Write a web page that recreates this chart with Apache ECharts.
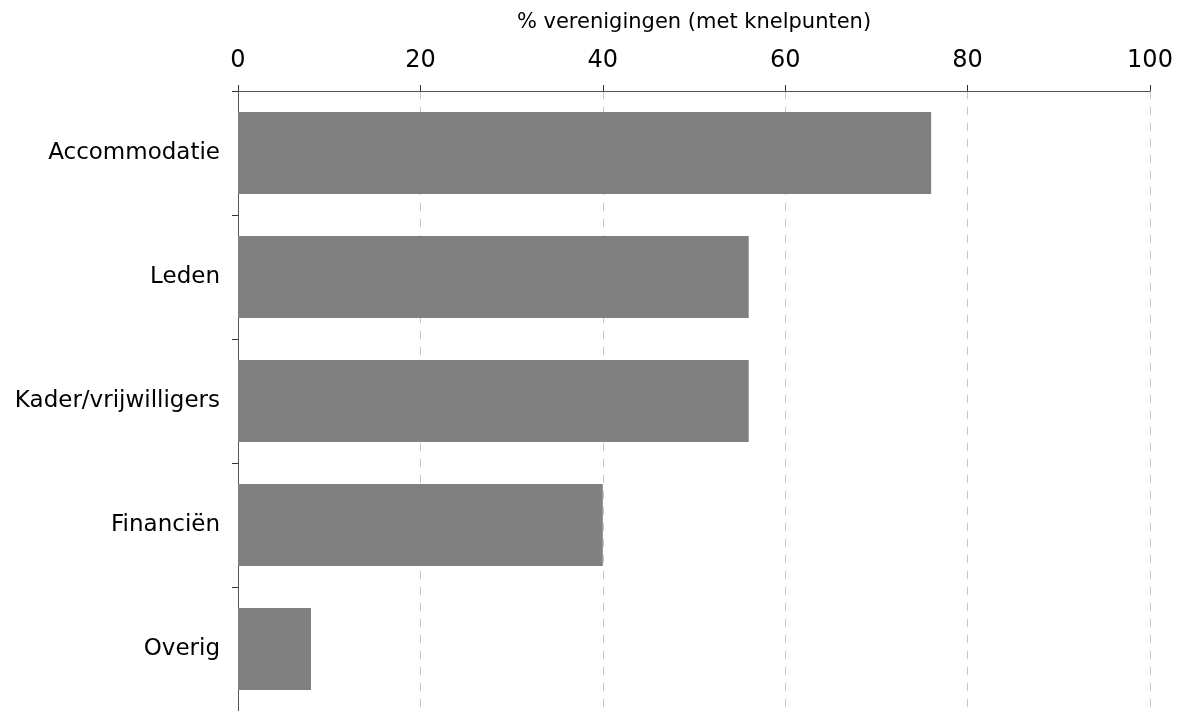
<!DOCTYPE html>
<html>
<head>
<meta charset="utf-8">
<script src="https://cdn.jsdelivr.net/npm/echarts@6/dist/echarts.min.js"></script>
<style>html,body{margin:0;padding:0;background:#fff}#c{width:1180px;height:711px}</style>
</head>
<body>
<div id="c"></div>
<script>
const categories = ['Accommodatie', 'Leden', 'Kader/vrijwilligers', 'Financiën', 'Overig'];
const values = [76, 56, 56, 40, 8];
const axisName = '% verenigingen (met knelpunten)';

const font = '"DejaVu Sans", sans-serif';
const chart = echarts.init(document.getElementById('c'));
chart.setOption({
  animation: false,
  backgroundColor: '#fff',
  grid: { left: 238, right: 30, top: 91, height: 626 },
  xAxis: {
    type: 'value', position: 'top', min: 0, max: 100, interval: 20,
    name: axisName, nameLocation: 'middle', nameGap: 58,
    nameTextStyle: { fontFamily: font, fontSize: 21, color: '#000' },
    axisLine: { show: true, lineStyle: { color: '#555', width: 1 } },
    axisTick: { show: true, length: 6, lineStyle: { color: '#333' } },
    axisLabel: { fontFamily: font, fontSize: 24, color: '#000', margin: 18 },
    splitLine: { show: true, lineStyle: { color: '#c8c8c8', type: [8, 8] } }
  },
  yAxis: {
    type: 'category', data: categories, inverse: true,
    axisLine: { show: true, lineStyle: { color: '#555', width: 1 } },
    axisTick: { show: true, length: 6, lineStyle: { color: '#333' } },
    axisLabel: { fontFamily: font, fontSize: 23, color: '#000', margin: 18 },
    splitLine: { show: false }
  },
  series: [{
    type: 'bar', data: values, barCategoryGap: '34%',
    itemStyle: { color: '#808080' }
  }]
});
</script>
</body>
</html>
